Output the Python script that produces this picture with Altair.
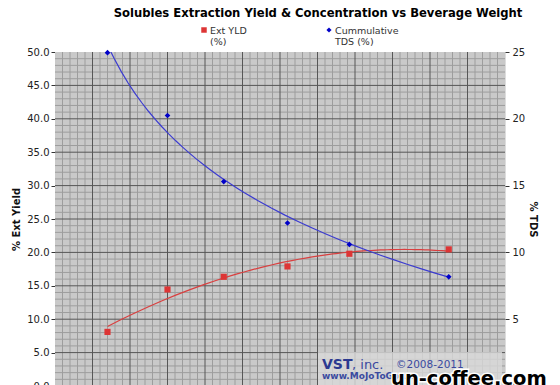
import altair as alt
import pandas as pd

# ---------------- data ----------------
beverage_weight = [14, 30, 45, 62, 78.5, 105]
ext_yield_pct = [8.1, 14.45, 16.35, 17.9, 19.8, 20.45]
tds_pct = [24.95, 20.25, 15.3, 12.2, 10.6, 8.17]

series_labels = ["Ext YLD|(%)", "Cummulative|TDS (%)"]
left_tick_values = [0, 5, 10, 15, 20, 25, 30, 35, 40, 45, 50]
right_tick_values = [0, 5, 10, 15, 20, 25]

x_major = list(range(10, 120, 10))
x_minor = [v for v in range(2, 120, 2) if v % 10]
y_major = list(range(5, 50, 5))
y_minor = [v for v in range(1, 50) if v % 5]

title_text = "Solubles Extraction Yield & Concentration vs Beverage Weight"

# ---------------- styling ----------------
FONT = "DejaVu Sans"
RED = "#dd3535"
BLUE = "#0000c8"
BLUE_LINE = "#3b3bd0"
RED_LINE = "#d94040"
BG = "#c9c9c9"
MINOR = "#9d9d9d"
MAJOR = "#575757"

W, H = 450, 334
xs = alt.Scale(domain=[0, 120], nice=False, zero=False)
yl = alt.Scale(domain=[0, 50], nice=False, zero=False)
yr = alt.Scale(domain=[0, 25], nice=False, zero=False)

df = pd.DataFrame({"w": beverage_weight, "yld": ext_yield_pct, "tds": tds_pct})

left_axis = alt.Axis(
    values=left_tick_values, format=".1f", title="% Ext Yield", grid=False, domain=False,
    tickSize=4, tickColor="#333", labelFont=FONT, labelFontSize=10, labelColor="#222",
    labelPadding=2, titleFont=FONT, titleFontSize=10, titleFontWeight="bold",
    titleColor="#111", titlePadding=5,
)
right_axis = alt.Axis(
    orient="right", values=right_tick_values, format="d", title="% TDS", grid=False,
    domain=False, tickSize=4, tickColor="#333", labelFont=FONT, labelFontSize=10,
    labelColor="#222", labelPadding=3, titleFont=FONT, titleFontSize=10,
    titleFontWeight="bold", titleColor="#111", titlePadding=3,
)


def vrules(vals, color):
    return alt.Chart(pd.DataFrame({"v": vals})).mark_rule(color=color, strokeWidth=1).encode(
        x=alt.X("v:Q", scale=xs, axis=None)
    )


def hrules(vals, color):
    return alt.Chart(pd.DataFrame({"v": vals})).mark_rule(color=color, strokeWidth=1).encode(
        y=alt.Y("v:Q", scale=yl, axis=left_axis)
    )


base = alt.Chart(df)

plot_bg = alt.Chart(pd.DataFrame({"a": [1]})).mark_rect(color=BG).encode(
    x=alt.value(0), x2=alt.value(W), y=alt.value(0), y2=alt.value(H))

red_pts = base.mark_square(size=38, color=RED, opacity=1).encode(
    x=alt.X("w:Q", scale=xs, axis=None),
    y=alt.Y("yld:Q", scale=yl, axis=left_axis),
)
red_fit = base.transform_regression("w", "yld", method="poly", order=2).mark_line(
    color=RED_LINE, strokeWidth=1.2, clip=True
).encode(x=alt.X("w:Q", scale=xs, axis=None), y=alt.Y("yld:Q", scale=yl, axis=left_axis))

blue_pts = base.mark_point(shape="diamond", filled=True, size=32, color=BLUE, opacity=1).encode(
    x=alt.X("w:Q", scale=xs, axis=None),
    y=alt.Y("tds:Q", scale=yr, axis=right_axis),
)
blue_fit = base.transform_regression("w", "tds", method="log").mark_line(
    color=BLUE_LINE, strokeWidth=1.2, clip=True
).encode(x=alt.X("w:Q", scale=xs, axis=None), y=alt.Y("tds:Q", scale=yr, axis=right_axis))

# legend (top, two entries)
leg_red_sym = alt.Chart(pd.DataFrame({"s": [series_labels[0]]})).mark_square(
    size=30, color=RED, opacity=1).encode(x=alt.value(149), y=alt.value(-22))
leg_red_txt = alt.Chart(pd.DataFrame({"s": [series_labels[0]]})).mark_text(
    align="left", baseline="alphabetic", font=FONT, fontSize=9.5, color="#333",
    lineBreak="|", lineHeight=11).encode(x=alt.value(155), y=alt.value(-18), text="s:N")
leg_blue_sym = alt.Chart(pd.DataFrame({"s": [series_labels[1]]})).mark_point(
    shape="diamond", filled=True, size=26, color=BLUE, opacity=1).encode(
    x=alt.value(274), y=alt.value(-22))
leg_blue_txt = alt.Chart(pd.DataFrame({"s": [series_labels[1]]})).mark_text(
    align="left", baseline="alphabetic", font=FONT, fontSize=9.5, color="#333",
    lineBreak="|", lineHeight=11).encode(x=alt.value(280), y=alt.value(-18), text="s:N")

# watermark box
wm_box = alt.Chart(pd.DataFrame({"a": [1]})).mark_rect(color="#dadada", opacity=0.8).encode(
    x=alt.value(263), x2=alt.value(447), y=alt.value(300), y2=alt.value(H))
wm_vst = alt.Chart(pd.DataFrame({"t": ["VST"]})).mark_text(
    align="left", font=FONT, fontSize=14, fontWeight="bold", color="#2b3990").encode(
    x=alt.value(267), y=alt.value(313), text="t:N")
wm_inc = alt.Chart(pd.DataFrame({"t": [", inc."]})).mark_text(
    align="left", font=FONT, fontSize=13, color="#3a4aa0").encode(
    x=alt.value(297), y=alt.value(313), text="t:N")
wm_copy = alt.Chart(pd.DataFrame({"t": ["©2008-2011"]})).mark_text(
    align="left", font=FONT, fontSize=10.5, color="#3a4aa0").encode(
    x=alt.value(341), y=alt.value(313), text="t:N")
wm_www = alt.Chart(pd.DataFrame({"t": ["www.MoJoToGo.us"]})).mark_text(
    align="left", font=FONT, fontSize=9, fontWeight="bold", color="#3a4aa0").encode(
    x=alt.value(267), y=alt.value(324), text="t:N")
wm_uc_bg = alt.Chart(pd.DataFrame({"t": ["un-coffee.com"]})).mark_text(
    align="left", font=FONT, fontSize=19.5, fontWeight="bold", color="#000",
    stroke="white", strokeWidth=3).encode(x=alt.value(336), y=alt.value(327), text="t:N")
wm_uc = alt.Chart(pd.DataFrame({"t": ["un-coffee.com"]})).mark_text(
    align="left", font=FONT, fontSize=19.5, fontWeight="bold", color="#000").encode(
    x=alt.value(336), y=alt.value(327), text="t:N")

left_group = alt.layer(
    plot_bg,
    vrules(x_minor, MINOR), hrules(y_minor, MINOR), vrules(x_major, MAJOR), hrules(y_major, MAJOR),
    red_fit, red_pts,
)
right_group = alt.layer(blue_fit, blue_pts)

chart = alt.layer(
    left_group, right_group,
    wm_box, wm_vst, wm_inc, wm_copy, wm_www, wm_uc_bg, wm_uc,
    leg_red_sym, leg_red_txt, leg_blue_sym, leg_blue_txt,
).resolve_scale(y="independent").properties(
    width=W, height=H,
    title=alt.TitleParams(title_text, anchor="middle", dx=38, font=FONT, fontSize=11.6,
                          fontWeight="bold", color="#000", offset=6),
    autosize=alt.AutoSizeParams(type="none"),
    padding={"left": 47, "top": 44, "right": 47, "bottom": 0},
).configure_view(fill=BG, stroke="#555", strokeWidth=1).configure(background="white")

chart.save("out.html", embed_options={"renderer": "svg", "actions": False})
